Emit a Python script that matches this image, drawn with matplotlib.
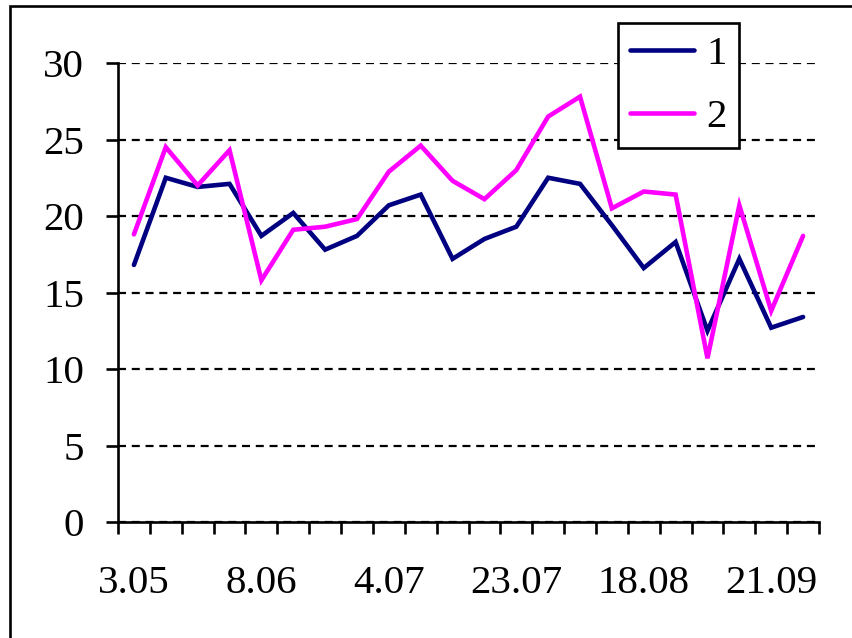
import matplotlib
matplotlib.use("Agg")
import matplotlib.pyplot as plt
from matplotlib.patches import Rectangle

dates = ["3.05", "", "", "", "8.06", "", "", "", "4.07", "", "", "",
         "23.07", "", "", "", "18.08", "", "", "", "21.09", ""]
series1 = [16.8, 22.5, 21.9, 22.1, 18.7, 20.2, 17.8, 18.7, 20.7, 21.4, 17.2,
           18.5, 19.3, 22.5, 22.1, 19.4, 16.6, 18.3, 12.5, 17.2, 12.7, 13.4]
series2 = [18.8, 24.5, 22.0, 24.3, 15.8, 19.1, 19.3, 19.8, 22.9, 24.6, 22.3,
           21.1, 23.0, 26.5, 27.8, 20.5, 21.6, 21.4, 10.7, 20.7, 13.8, 18.7]
labels = ["1", "2"]
yticks = [0, 5, 10, 15, 20, 25, 30]

plt.rcParams['font.family'] = ['Liberation Serif', 'DejaVu Serif']
FS = 29.5

W, H = 852, 638
fig = plt.figure(figsize=(W / 100, H / 100), dpi=100)
ax = fig.add_axes([118 / W, 1 - 522 / H, (819 - 118) / W, (522 - 63) / H])

x = list(range(len(series1)))
ax.plot(x, series1, color="#000080", lw=3.3, label=labels[0],
        solid_joinstyle="miter", solid_capstyle="round")
ax.plot(x, series2, color="#FF00FF", lw=3.3, label=labels[1],
        solid_joinstyle="miter", solid_capstyle="round")

ax.set_xlim(-0.5, len(series1) - 0.5)
ax.set_ylim(0, 30)

for s in ["top", "right"]:
    ax.spines[s].set_visible(False)
for s in ["left", "bottom"]:
    ax.spines[s].set_linewidth(1.9)
    ax.spines[s].set_color("black")

ax.set_yticks(yticks)
ax.set_yticklabels([str(v) for v in yticks], fontsize=FS)
ax.tick_params(axis="y", direction="out", length=8.5, width=1.9, pad=16)

label_pos = [i for i, d in enumerate(dates) if d]
ax.set_xticks(label_pos)
ax.set_xticklabels([dates[i] for i in label_pos], fontsize=FS)
ax.set_xticks([i - 0.5 for i in range(len(series1) + 1)], minor=True)
ax.tick_params(axis="x", which="major", length=0, pad=31)
ax.tick_params(axis="x", which="minor", direction="out", length=8.5, width=1.9)

ax.yaxis.grid(True, color="black", linestyle=(0, (3.6, 2.6)), linewidth=1.6)
ax.set_axisbelow(True)

leg = ax.legend(loc="upper left", bbox_to_anchor=(618 / W, 1 - 23 / H),
                bbox_transform=fig.transFigure, fontsize=FS, frameon=True,
                fancybox=False, handlelength=1.55, handletextpad=0.3,
                labelspacing=0.62, borderpad=0.3, borderaxespad=0)
leg.get_frame().set_edgecolor("black")
leg.get_frame().set_linewidth(1.9)
leg.get_frame().set_alpha(1)

fig.patches.append(Rectangle((9.5 / W, -0.1), 1.2, 1.1 - 6.5 / H,
                             transform=fig.transFigure, fill=False,
                             edgecolor="black", linewidth=1.9, clip_on=False))

fig.savefig("out.png", dpi=100)
